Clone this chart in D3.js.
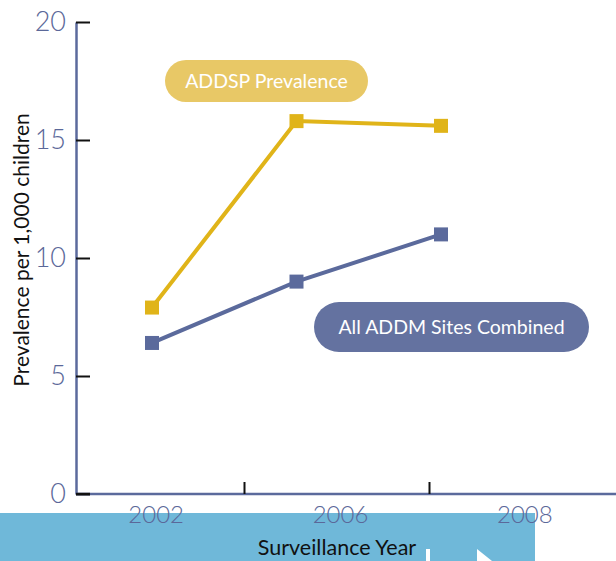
<!DOCTYPE html>
<html>
<head>
<meta charset="utf-8">
<script src="https://cdn.jsdelivr.net/npm/d3@7"></script>
<style>
  body { margin: 0; background: #fff; }
  svg { display: block; font-family: Lato, "Open Sans", sans-serif; }
</style>
</head>
<body>
<svg id="chart" width="616" height="561"></svg>
<script>
// Surveillance years and prevalence per 1,000 children
const years = ["2002", "2006", "2008"];
const addspValues = [7.9, 15.8, 15.6];
const addmValues = [6.4, 9.0, 11.0];
const yTicks = [0, 5, 10, 15, 20];
const seriesLabels = ["ADDSP Prevalence", "All ADDM Sites Combined"];

const W = 616, H = 561;
const yellow = "#e0b419", blue = "#5b6a9c";
const tickText = "#5b6899";

const svg = d3.select("#chart");

const y = d3.scaleLinear().domain([0, 20]).range([494, 22]);
// category bands along the x axis (labels centred, ticks on the band edges)
const xBand = d3.scaleBand().domain(years).range([64, 617]);
// positions of the plotted points
const xPt = d3.scalePoint().domain(years).range([152, 441]);

// bottom title strip
svg.append("rect")
  .attr("x", 0).attr("y", 513).attr("width", 535).attr("height", H - 513)
  .attr("fill", "#6fb8d9");
svg.append("rect")
  .attr("x", 426).attr("y", 549).attr("width", 4).attr("height", 12)
  .attr("fill", "#fff");
svg.append("path")
  .attr("d", "M477,549 L492,561 L477,561 Z")
  .attr("fill", "#fff");

// y axis
const yAxis = svg.append("g")
  .attr("transform", "translate(76,0)")
  .call(d3.axisLeft(y).tickValues(yTicks).tickSize(-14).tickSizeOuter(0).tickPadding(10));
yAxis.select(".domain").attr("stroke", blue).attr("stroke-width", 2.5);
yAxis.selectAll(".tick line").attr("stroke", "#111").attr("stroke-width", 2);
yAxis.selectAll(".tick text")
  .attr("fill", tickText).attr("font-size", 27).attr("font-weight", 300)
  .attr("font-family", "Lato, 'Open Sans', sans-serif");

// x axis baseline
svg.append("line")
  .attr("x1", 76).attr("x2", W).attr("y1", y(0)).attr("y2", y(0))
  .attr("stroke", blue).attr("stroke-width", 2.5);
svg.append("line")
  .attr("x1", 76).attr("x2", 90).attr("y1", y(0)).attr("y2", y(0))
  .attr("stroke", "#111").attr("stroke-width", 2.5);

// x ticks on the band boundaries
svg.append("g").selectAll("line")
  .data(years.slice(1))
  .join("line")
  .attr("x1", d => Math.round(xBand(d)) - 3.5)
  .attr("x2", d => Math.round(xBand(d)) - 3.5)
  .attr("y1", y(0)).attr("y2", y(0) - 12)
  .attr("stroke", "#111").attr("stroke-width", 2);

svg.append("g").selectAll("text")
  .data(years)
  .join("text")
  .attr("x", d => xBand(d) + xBand.bandwidth() / 2)
  .attr("y", 523)
  .attr("text-anchor", "middle")
  .attr("fill", tickText)
  .attr("font-size", 24).attr("font-weight", 300)
  .text(d => d);

// axis titles
svg.append("text")
  .attr("transform", "translate(29,250) rotate(-90)")
  .attr("text-anchor", "middle")
  .attr("fill", "#111").attr("font-size", 21)
  .text("Prevalence per 1,000 children");

svg.append("text")
  .attr("x", 337).attr("y", 555)
  .attr("text-anchor", "middle")
  .attr("fill", "#111").attr("font-size", 21.5)
  .text("Surveillance Year");

// series lines and square markers
const line = d3.line().x((d, i) => xPt(years[i])).y(d => y(d));
const series = [
  { values: addspValues, color: yellow },
  { values: addmValues, color: blue }
];
const mark = 14;
series.forEach(s => {
  svg.append("path")
    .datum(s.values)
    .attr("d", line)
    .attr("fill", "none")
    .attr("stroke", s.color)
    .attr("stroke-width", 4);
  svg.append("g").selectAll("rect")
    .data(s.values)
    .join("rect")
    .attr("x", (d, i) => xPt(years[i]) - mark / 2)
    .attr("y", d => y(d) - mark / 2)
    .attr("width", mark).attr("height", mark)
    .attr("fill", s.color);
});

// series name labels
const pills = [
  { text: seriesLabels[0], x: 165, y: 60, w: 203, h: 42, fill: "#e8c866" },
  { text: seriesLabels[1], x: 314, y: 302, w: 275, h: 50, fill: "#6472a0" }
];
pills.forEach(p => {
  svg.append("rect")
    .attr("x", p.x).attr("y", p.y).attr("width", p.w).attr("height", p.h)
    .attr("rx", p.h / 2).attr("ry", p.h / 2)
    .attr("fill", p.fill);
  svg.append("text")
    .attr("x", p.x + p.w / 2).attr("y", p.y + p.h / 2)
    .attr("dy", "0.36em")
    .attr("text-anchor", "middle")
    .attr("fill", "#fff").attr("font-size", 19.5)
    .text(p.text);
});
</script>
</body>
</html>
